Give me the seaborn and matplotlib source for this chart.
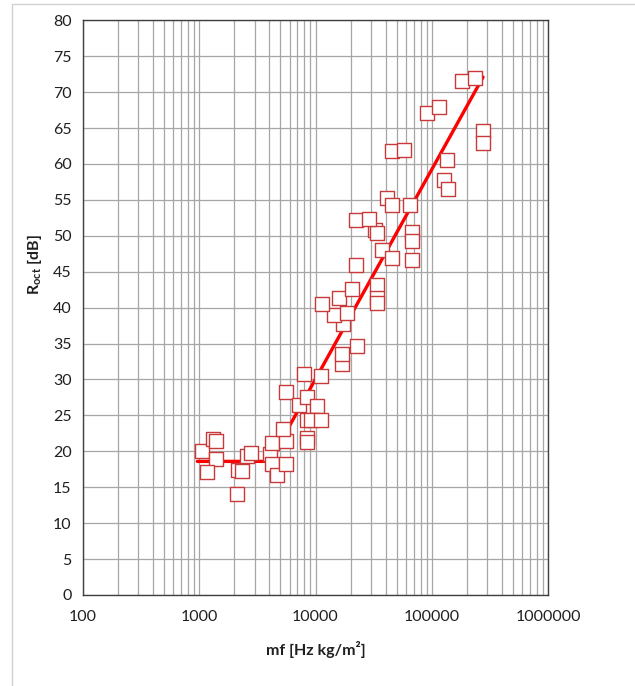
import numpy as np
import pandas as pd
import matplotlib
matplotlib.use("Agg")
import matplotlib.pyplot as plt
import matplotlib.ticker as mticker
from matplotlib.patches import Rectangle
import seaborn as sns

# ---- data ----
mf = [1053, 1309, 1397, 1397, 1162, 2172, 2350, 2130, 2564, 2792,
      4065, 4255, 4255, 4642, 5580, 5580, 5225, 5580, 7215, 8453,
      10300, 8400, 9150, 11150, 8453, 8453, 7965, 11215, 16990, 16990,
      22600, 17130, 14500, 18530, 11310, 15920, 20720, 33950, 33950, 33950,
      22410, 37040, 45140, 68120, 68120, 68120, 32450, 34090, 22410, 28990,
      41380, 44970, 64210, 45140, 57930, 90230, 115800, 135600, 127000, 136700,
      180300, 233200, 273200, 273200]
r_oct = [20.1, 21.7, 21.5, 18.9, 17.1, 17.4, 17.3, 14.0, 19.4, 19.8,
         19.6, 21.2, 18.3, 16.7, 18.2, 21.5, 23.1, 28.2, 26.5, 27.5,
         26.3, 24.4, 24.3, 24.4, 21.8, 21.3, 30.7, 30.5, 32.2, 33.5,
         34.7, 37.7, 39.0, 39.2, 40.5, 41.4, 42.6, 43.1, 41.4, 40.7,
         45.9, 48.0, 46.9, 46.7, 50.6, 49.3, 50.8, 50.4, 52.2, 52.3,
         55.2, 54.3, 54.3, 61.8, 62.0, 67.1, 67.9, 60.6, 57.7, 56.5,
         71.5, 72.0, 64.6, 62.9]

trend_mf = [965, 4050, 275000]
trend_r = [18.6, 18.6, 72.1]

x_ticks = [100, 1000, 10000, 100000, 1000000]
x_tick_labels = ["100", "1000", "10000", "100000", "1000000"]
y_ticks = list(range(0, 81, 5))

points = pd.DataFrame({"mf": mf, "R": r_oct})
trend = pd.DataFrame({"mf": trend_mf, "R": trend_r})

# ---- style ----
sns.set_theme(style="white")
plt.rcParams["font.family"] = ["Lato", "DejaVu Sans"]
plt.rcParams["mathtext.fontset"] = "custom"
plt.rcParams["mathtext.rm"] = "Lato"
plt.rcParams["mathtext.bf"] = "Lato:bold"

W, H = 635, 686
fig = plt.figure(figsize=(W / 100, H / 100), dpi=100)
ax = fig.add_axes([82.7 / W, 1 - 595 / H, (548.3 - 82.7) / W, (595 - 20.3) / H])

# chart border (light frame like the spreadsheet chart area)
fig.patches.append(Rectangle((12 / W, -0.01), 1.0, 1 - 4 / H + 0.01,
                             transform=fig.transFigure, fill=False,
                             edgecolor="#D0D0D0", linewidth=1.0, zorder=0))

sns.lineplot(data=trend, x="mf", y="R", sort=False, ax=ax, color="#FF0000",
             linewidth=2.4, zorder=3)
sns.scatterplot(data=points, x="mf", y="R", ax=ax, marker="s", s=95,
                facecolor="white", edgecolor="#C83A3A", linewidth=1.0, zorder=4)

ax.set_xscale("log")
ax.set_xlim(100, 1000000)
ax.set_ylim(0, 80)
ax.set_xticks(x_ticks)
ax.set_xticklabels(x_tick_labels)
ax.xaxis.set_minor_locator(mticker.LogLocator(base=10, subs=np.arange(2, 10)))
ax.xaxis.set_minor_formatter(mticker.NullFormatter())
ax.set_yticks(y_ticks)

ax.grid(True, which="major", axis="both", color="#A6A6A6", linewidth=0.9, zorder=0)
ax.grid(True, which="minor", axis="x", color="#A6A6A6", linewidth=0.9, zorder=0)
ax.set_axisbelow(True)

for sp in ax.spines.values():
    sp.set_visible(True)
    sp.set_color("#404040")
    sp.set_linewidth(1.0)

ax.tick_params(axis="both", which="both", length=0, labelsize=11.5,
               colors="#202020", pad=8)
ax.tick_params(axis="x", pad=11)

ax.set_xlabel("")
ax.set_ylabel("")
fig.text(315.5 / W, 1 - 650 / H, "mf [Hz kg/m²]", ha="center", va="center",
         fontsize=11.5, fontweight="bold", color="#202020")
fig.text(35 / W, 1 - 264 / H, r"$\mathbf{R}_{\mathbf{oct}}$ [dB]", ha="center",
         va="center", rotation=90, fontsize=11.5, fontweight="bold", color="#202020")

fig.savefig("out.png", dpi=100, facecolor="white")
